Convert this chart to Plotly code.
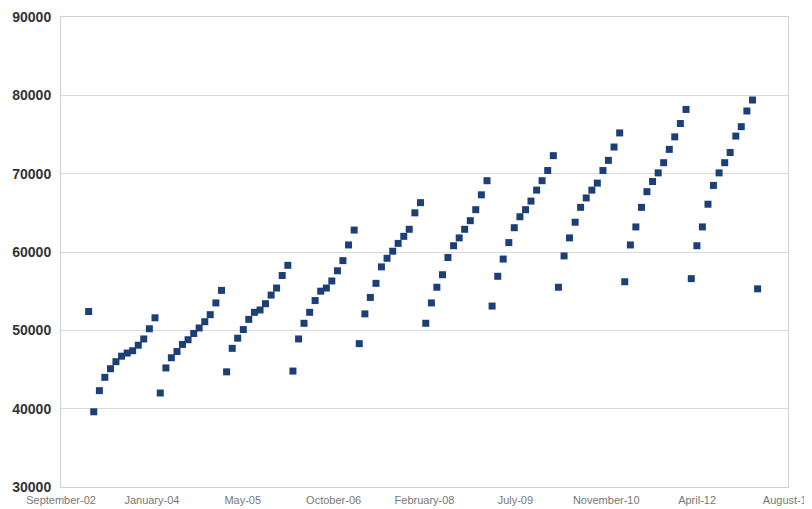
import pandas as pd
import plotly.graph_objects as go

# Monthly series (month-end dates), Jan 2003 .. Feb 2013
start_month = "2003-01-31"
values = [
    52400,
    39600, 42300, 44000, 45100, 46000, 46700, 47100, 47400, 48100, 48900, 50200, 51600,
    42000, 45200, 46500, 47300, 48200, 48800, 49600, 50300, 51100, 52000, 53500, 55100,
    44700, 47700, 49000, 50100, 51400, 52300, 52600, 53400, 54500, 55400, 57000, 58300,
    44800, 48900, 50900, 52300, 53800, 55000, 55400, 56300, 57600, 58900, 60900, 62800,
    48300, 52100, 54200, 56000, 58100, 59200, 60100, 61100, 62000, 62900, 65000, 66300,
    50900, 53500, 55500, 57100, 59300, 60800, 61800, 62900, 64000, 65400, 67300, 69100,
    53100, 56900, 59100, 61200, 63100, 64500, 65400, 66500, 67900, 69100, 70400, 72300,
    55500, 59500, 61800, 63800, 65700, 66900, 67900, 68800, 70400, 71700, 73400, 75200,
    56200, 60900, 63200, 65700, 67700, 69000, 70100, 71400, 73100, 74700, 76400, 78200,
    56600, 60800, 63200, 66100, 68500, 70100, 71400, 72700, 74800, 76000, 78000, 79400,
    55300,
]
dates = pd.date_range(start=start_month, periods=len(values), freq="ME")

# Axis ticks (date axis, major unit 500 days from 1 Sep 2002)
axis_start = "2002-09-01"
tick_step_days = 500
tick_labels = ["September-02", "January-04", "May-05", "October-06", "February-08",
               "July-09", "November-10", "April-12", "August-13"]
tick_vals = [pd.Timestamp(axis_start) + pd.Timedelta(days=tick_step_days * i)
             for i in range(len(tick_labels))]
y_ticks = [30000, 40000, 50000, 60000, 70000, 80000, 90000]
y_labels = [str(v) for v in y_ticks]

fig = go.Figure(
    go.Scatter(
        x=dates, y=values, mode="markers",
        marker=dict(symbol="square", size=7, color="#1d3f78", line=dict(width=0)),
        showlegend=False,
    )
)

# page body has an 8px margin, so the figure is sized/offset to compensate
fig.update_layout(
    width=804, height=501,
    margin=dict(l=53, r=24, t=9, b=22),
    paper_bgcolor="white", plot_bgcolor="white",
    font=dict(family="Liberation Sans, Arial, sans-serif"),
)
fig.update_xaxes(
    range=[tick_vals[0] - pd.Timedelta(hours=6), tick_vals[-1] + pd.Timedelta(hours=6)],
    tickvals=tick_vals, ticktext=tick_labels,
    tickfont=dict(size=11, color="#777777"),
    showgrid=False, showline=True, linecolor="#d0d0d0", linewidth=1, mirror=True,
    ticks="", zeroline=False, automargin=False, ticklabelstandoff=3,
    ticklabeloverflow="allow",
)
fig.update_yaxes(
    range=[30000, 90000], tickvals=y_ticks, ticktext=y_labels,
    tickfont=dict(size=14, color="#333333", weight="bold"),
    showgrid=True, gridcolor="#d9d9d9", gridwidth=1,
    showline=True, linecolor="#d0d0d0", linewidth=1, mirror=True,
    ticks="", zeroline=False, automargin=False, ticklabelstandoff=6,
)

fig.write_html("out.html")
